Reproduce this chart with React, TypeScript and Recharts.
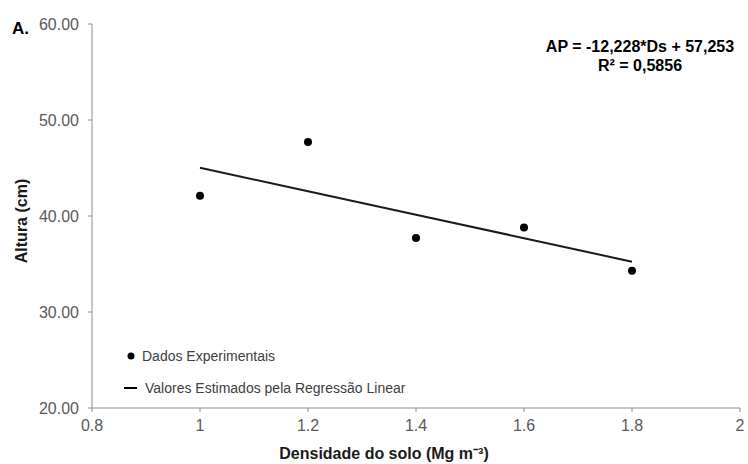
import React from 'react';
import { ComposedChart, Line, XAxis, YAxis } from 'recharts';

const densities = [1.0, 1.2, 1.4, 1.6, 1.8];
const observedHeights = [42.1, 47.7, 37.7, 38.8, 34.3];
const estimatedHeights = [45.03, 42.58, 40.13, 37.69, 35.24];
const xTicks = [0.8, 1, 1.2, 1.4, 1.6, 1.8, 2];
const yTicks = [20, 30, 40, 50, 60];
const equationLine1 = 'AP = -12,228*Ds + 57,253';
const equationLine2 = 'R² = 0,5856';
const legendObserved = 'Dados Experimentais';
const legendEstimated = 'Valores Estimados pela Regressão Linear';

const data = densities.map((x, i) => ({ x, observed: observedHeights[i], estimated: estimatedHeights[i] }));

const FONT = '"Liberation Sans", Arial, sans-serif';
const TICK_COLOR = '#595959';
const AXIS_COLOR = '#8c8c8c';

const Dot = (props: any) => {
  const { cx, cy } = props;
  if (cx == null || cy == null) return null;
  return <circle cx={cx} cy={cy} r={4} fill="#000" />;
};

export default function App() {
  return (
    <div style={{ position: 'absolute', left: 0, top: 0, width: 748, height: 464, background: '#fff', fontFamily: FONT }}>
      <ComposedChart width={748} height={464} data={data} margin={{ top: 24, right: 8, bottom: 26, left: 0 }}>
        <XAxis
          type="number"
          dataKey="x"
          domain={[0.8, 2]}
          ticks={xTicks}
          height={30}
          stroke={AXIS_COLOR}
          tickSize={4}
          tickMargin={8}
          tick={{ fill: TICK_COLOR, fontSize: 16, fontFamily: FONT }}
          tickFormatter={(v: number) => String(Number(v.toFixed(1)))}
          label={{
            value: 'Densidade do solo (Mg m⁻³)',
            position: 'insideBottom',
            offset: -21,
            dx: -32,
            style: { fill: '#1a1a1a', fontSize: 16, fontWeight: 'bold', fontFamily: FONT },
          }}
        />
        <YAxis
          type="number"
          domain={[20, 60]}
          ticks={yTicks}
          width={92}
          stroke={AXIS_COLOR}
          tickSize={4}
          tickMargin={9}
          tick={{ fill: TICK_COLOR, fontSize: 16, fontFamily: FONT }}
          tickFormatter={(v: number) => v.toFixed(2)}
          label={{
            value: 'Altura (cm)',
            angle: -90,
            position: 'insideLeft',
            offset: 21,
            dy: 5,
            style: { fill: '#1a1a1a', fontSize: 16, fontWeight: 'bold', fontFamily: FONT, textAnchor: 'middle' },
          }}
        />
        <Line
          dataKey="estimated"
          stroke="#1a1a1a"
          strokeWidth={2}
          dot={false}
          activeDot={false}
          isAnimationActive={false}
        />
        <Line
          dataKey="observed"
          stroke="none"
          dot={<Dot />}
          activeDot={false}
          isAnimationActive={false}
        />
      </ComposedChart>
      <svg width={330} height={60} style={{ position: 'absolute', left: 120, top: 345, overflow: 'visible' }}>
        <circle cx={11} cy={11} r={3.5} fill="#000" />
        <text x={22} y={16} fontSize={14} fill="#404040" fontFamily={FONT}>{legendObserved}</text>
        <line x1={4} x2={17} y1={43} y2={43} stroke="#000" strokeWidth={2} />
        <text x={25} y={48} fontSize={14} fill="#404040" fontFamily={FONT}>{legendEstimated}</text>
      </svg>
      <div style={{ position: 'absolute', left: 12, top: 19, fontSize: 17, fontWeight: 'bold', color: '#000' }}>A.</div>
      <div style={{ position: 'absolute', left: 540, top: 37, width: 200, textAlign: 'center', fontSize: 16, fontWeight: 'bold', color: '#000', lineHeight: '19px' }}>
        <div>{equationLine1}</div>
        <div>{equationLine2}</div>
      </div>
    </div>
  );
}
